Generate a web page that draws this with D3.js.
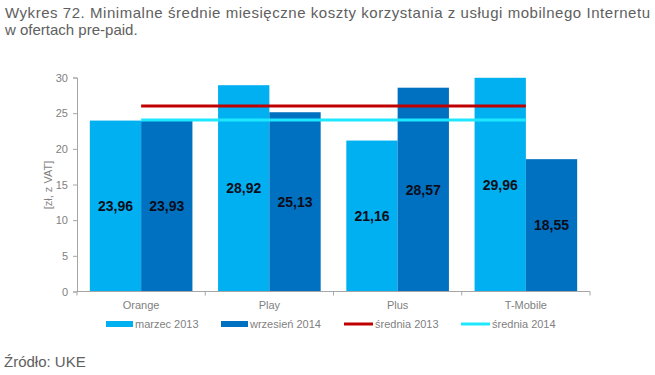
<!DOCTYPE html>
<html>
<head>
<meta charset="utf-8">
<script src="https://cdn.jsdelivr.net/npm/d3@7"></script>
<style>
  body { margin: 0; background: #fff; }
</style>
</head>
<body>
<svg id="chart" width="655" height="375" font-family="'Liberation Sans', Arial, sans-serif"></svg>
<script>
// data
const categories = ["Orange", "Play", "Plus", "T-Mobile"];
const marzec2013 = [23.96, 28.92, 21.16, 29.96];
const wrzesien2014 = [23.93, 25.13, 28.57, 18.55];
const srednia2013 = 26.0;
const srednia2014 = 24.04;
const yTicks = [0, 5, 10, 15, 20, 25, 30];
const seriesNames = ["marzec 2013", "wrzesień 2014"];

const colLight = "#00b0f0";
const colDark = "#0070c0";
const colRed = "#c00000";
const colCyan = "#1ee8ff";
const grey = "#7f7f7f";
const font = "'Liberation Sans', Arial, sans-serif";

const svg = d3.select("#chart");

// title
svg.append("text")
  .attr("x", 5).attr("y", 18)
  .attr("textLength", 645).attr("lengthAdjust", "spacing")
  .style("font-size", "15px").style("fill", "#606060")
  .text("Wykres 72. Minimalne średnie miesięczne koszty korzystania z usługi mobilnego Internetu");
svg.append("text")
  .attr("x", 5).attr("y", 35)
  .style("font-size", "15px").style("fill", "#606060")
  .text("w ofertach pre-paid.");

const marginLeft = 77, innerWidth = 513, marginTop = 77.5, innerHeight = 214;

const x0 = d3.scaleBand()
  .domain(categories)
  .range([0, innerWidth])
  .paddingInner(0.2)
  .paddingOuter(0.1);

const x1 = d3.scaleBand()
  .domain(seriesNames)
  .range([0, x0.bandwidth()]);

const y = d3.scaleLinear().domain([0, 30]).range([innerHeight, 0]);

const g = svg.append("g")
  .attr("transform", `translate(${marginLeft},${marginTop})`);

// y axis
const yAxis = g.append("g")
  .call(d3.axisLeft(y).tickValues(yTicks).tickSize(4).tickPadding(5))
  .attr("font-family", font);
yAxis.select(".domain").attr("stroke", "#a6a6a6");
yAxis.selectAll(".tick line").attr("stroke", "#a6a6a6");
yAxis.selectAll("text").style("font-size", "11px").style("fill", grey);

// bars
const rows = categories.map((c, i) => ({
  cat: c,
  vals: [
    { key: seriesNames[0], value: marzec2013[i], color: colLight },
    { key: seriesNames[1], value: wrzesien2014[i], color: colDark },
  ],
}));

const grp = g.selectAll("g.grp")
  .data(rows)
  .join("g")
  .attr("class", "grp")
  .attr("transform", (d) => `translate(${x0(d.cat)},0)`);

grp.selectAll("rect")
  .data((d) => d.vals)
  .join("rect")
  .attr("x", (d) => x1(d.key))
  .attr("y", (d) => y(d.value))
  .attr("width", x1.bandwidth())
  .attr("height", (d) => y(0) - y(d.value))
  .attr("fill", (d) => d.color);

// x axis (category boundaries as ticks)
const xAxisG = g.append("g").attr("transform", `translate(0,${innerHeight})`);
xAxisG.append("line")
  .attr("x1", 0).attr("x2", innerWidth)
  .attr("stroke", "#a6a6a6");
const step = x0.step();
xAxisG.selectAll("line.tk")
  .data(d3.range(categories.length + 1))
  .join("line")
  .attr("class", "tk")
  .attr("x1", (i) => x0(categories[0]) - x0.paddingOuter() * step + i * step)
  .attr("x2", (i) => x0(categories[0]) - x0.paddingOuter() * step + i * step)
  .attr("y1", 0).attr("y2", 4)
  .attr("stroke", "#a6a6a6");
xAxisG.selectAll("text")
  .data(categories)
  .join("text")
  .attr("x", (d) => x0(d) + x0.bandwidth() / 2)
  .attr("y", 17)
  .attr("text-anchor", "middle")
  .style("font-size", "11px").style("fill", grey)
  .text((d) => d);

// average lines
const xStart = x0(categories[0]) + x0.bandwidth() / 2;
const xEnd = x0(categories[categories.length - 1]) + x0.bandwidth() / 2;
g.append("line")
  .attr("x1", xStart).attr("x2", xEnd)
  .attr("y1", y(srednia2014)).attr("y2", y(srednia2014))
  .attr("stroke", colCyan).attr("stroke-width", 3);
g.append("line")
  .attr("x1", xStart).attr("x2", xEnd)
  .attr("y1", y(srednia2013)).attr("y2", y(srednia2013))
  .attr("stroke", colRed).attr("stroke-width", 3);

// value labels
grp.selectAll("text.value")
  .data((d) => d.vals)
  .join("text")
  .attr("class", "value")
  .attr("x", (d) => x1(d.key) + x1.bandwidth() / 2)
  .attr("y", (d) => y(d.value / 2))
  .attr("dy", "0.35em")
  .attr("text-anchor", "middle")
  .style("font-size", "14px").style("font-weight", "bold").style("fill", "#0d0d1a")
  .text((d) => d.value.toFixed(2).replace(".", ","));

// y axis title
svg.append("text")
  .attr("transform", "translate(48,185) rotate(-90)")
  .attr("text-anchor", "middle")
  .attr("dy", "0.35em")
  .style("font-size", "11px").style("fill", grey)
  .text("[zł, z VAT]");

// legend
const legend = [
  { name: "marzec 2013", color: colLight, type: "rect", x: 106 },
  { name: "wrzesień 2014", color: colDark, type: "rect", x: 221 },
  { name: "średnia 2013", color: colRed, type: "line", x: 344 },
  { name: "średnia 2014", color: colCyan, type: "line", x: 461 },
];
const lg = svg.append("g").attr("transform", "translate(0,324)");
const items = lg.selectAll("g").data(legend).join("g")
  .attr("transform", (d) => `translate(${d.x},0)`);
items.filter((d) => d.type === "rect").append("rect")
  .attr("x", 0).attr("y", -3).attr("width", 27).attr("height", 6)
  .attr("fill", (d) => d.color);
items.filter((d) => d.type === "line").append("line")
  .attr("x1", 0).attr("x2", 29).attr("y1", 0).attr("y2", 0)
  .attr("stroke", (d) => d.color).attr("stroke-width", 3);
items.append("text")
  .attr("x", (d) => (d.type === "rect" ? 29 : 31))
  .attr("dy", "0.35em")
  .style("font-size", "11px").style("fill", grey)
  .text((d) => d.name);

// source
svg.append("text")
  .attr("x", 4).attr("y", 367)
  .style("font-size", "15px").style("fill", "#606060")
  .text("Źródło: UKE");
</script>
</body>
</html>
